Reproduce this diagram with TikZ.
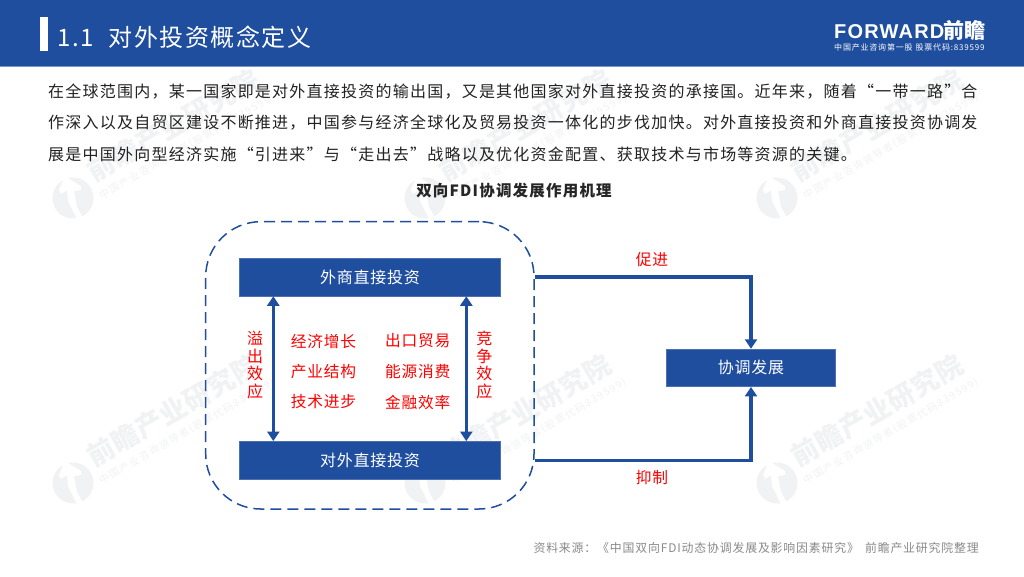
\documentclass[tikz,border=0pt]{standalone}
\usepackage{fontspec}
\setmainfont{Noto Sans CJK SC}
\newfontfamily\bodyf[LetterSpace=7.7]{Noto Sans CJK SC}
\newfontfamily\boxf[LetterSpace=5]{Noto Sans CJK SC}
\newfontfamily\titlef[LetterSpace=6.5]{Noto Sans CJK SC}
\newfontfamily\srcf[LetterSpace=7]{Noto Sans CJK SC}
\newfontfamily\logof[LetterSpace=6]{Liberation Sans}
\definecolor{fblue}{HTML}{1F4E9F}
\definecolor{wm}{HTML}{F0F2F4}
\definecolor{bodytxt}{HTML}{222222}
\definecolor{srcgrey}{HTML}{8A8A8A}
\tikzset{
  bluebox/.style={fill=fblue,draw=fblue!80!white,line width=0.5pt,text=white,font=\boxf\fontsize{16}{18}\selectfont,inner sep=0pt},
  redlabel/.style={text=red,font=\boxf\fontsize{15.7}{18}\selectfont,inner sep=0pt},
  redstack/.style={text=red,font=\fontsize{16}{17.5}\selectfont,align=center,inner sep=0pt},
  bodyline/.style={anchor=west,text=bodytxt,font=\bodyf\fontsize{16}{18}\selectfont,inner sep=0pt},
  conn/.style={draw=fblue,line width=3.3pt,line join=miter},
  tip/.style={-{Triangle[length=9.5pt,width=12pt]}},
  twotip/.style={{Triangle[length=9.5pt,width=12pt]}-{Triangle[length=9.5pt,width=12pt]}},
  wmmain/.style={anchor=west,rotate=30,text=wm,font=\bfseries\fontsize{27}{30}\selectfont,inner sep=0pt},
  wmsub/.style={anchor=west,rotate=30,text=wm,font=\fontsize{10}{12}\selectfont,inner sep=0pt},
}
\usetikzlibrary{arrows.meta}
\newcommand{\wmark}[2]{%
  \begin{scope}[shift={(#1,#2)}]
    \fill[wm] (0,0) circle[radius=20.5];
    \fill[white] (-9,-20) -- (-5,-20) -- (8,-12) -- (8,-8) -- (1,-7) -- (4,9) -- (11,21) -- (4,21) -- (-5,3) -- (-6,-8) -- (-12,-4) -- (-14,-8) -- cycle;
    \node[wmmain] at (16,-24) {\addfontfeature{LetterSpace=3}前瞻产业研究院};
    \node[wmsub] at (27,-1) {\addfontfeature{LetterSpace=15}中国产业咨询领导者(股票代码839599)};
  \end{scope}}
\begin{document}
\begin{tikzpicture}[x=1pt,y=-1pt]
\useasboundingbox (0,0) rectangle (1024,576);
\fill[white] (0,0) rectangle (1024,576);
% watermarks
\wmark{73}{198}\wmark{425}{198}\wmark{777}{198}
\wmark{73}{483}\wmark{425}{483}\wmark{777}{483}
% header
\fill[fblue] (0,0) rectangle (1024,66);
\fill[fblue!60!white] (0,66) rectangle (1024,66.8);
\fill[white] (40,17) rectangle (47.5,51);
\node[anchor=west,text=white,font=\titlef\fontsize{24}{28}\selectfont,inner sep=0pt] (title) at (57,37.5) {1.1\hspace{15pt}对外投资概念定义};
\node[anchor=west,text=white,font=\logof\bfseries\fontsize{20}{22}\selectfont,inner sep=0pt] (logo) at (834,30) {FORWARD\hspace{-1pt}\fontsize{21}{22}\selectfont\normalfont\bfseries 前瞻};
\node[anchor=west,text=white,font=\fontsize{8}{9}\selectfont,inner sep=0pt] (logosub) at (834,47) {\addfontfeature{LetterSpace=10}中国产业咨询第一股\hspace{3pt}股票代码:839599};
% body
\node[bodyline] (l1) at (48,91.5) {在全球范围内，某一国家即是对外直接投资的输出国，又是其他国家对外直接投资的承接国。近年来，随着“一带一路”合};
\node[bodyline] (l2) at (48,122.5) {作深入以及自贸区建设不断推进，中国参与经济全球化及贸易投资一体化的步伐加快。对外直接投资和外商直接投资协调发};
\node[bodyline] (l3) at (48,154.5) {展是中国外向型经济实施“引进来”与“走出去”战略以及优化资金配置、获取技术与市场等资源的关键。};
\node[text=black!85,font=\bodyf\bfseries\fontsize{15.5}{18}\selectfont,inner sep=0pt] (cap) at (514,191) {双向FDI协调发展作用机理};
% group
\node[draw=fblue,dashed,dash pattern=on 11pt off 6pt,line width=1.5pt,rounded corners=55pt,minimum width=328.3pt,minimum height=287.3pt,inner sep=0pt] (group) at (369.85,365.35) {};
% boxes
\node[bluebox,minimum width=261.4pt,minimum height=38pt] (fdiin) at (370,277) {外商直接投资};
\node[bluebox,minimum width=261.4pt,minimum height=38pt] (fdiout) at (370,460.3) {对外直接投资};
\node[bluebox,minimum width=168.6pt,minimum height=37.7pt] (coord) at (751,367.85) {协调发展};
% inner arrows
\coordinate (la) at (273.3,300);
\coordinate (ra) at (466.3,300);
\draw[conn,twotip] (fdiin.south -| la) -- (fdiout.north -| la);
\draw[conn,twotip] (fdiin.south -| ra) -- (fdiout.north -| ra);
% outer connectors
\draw[conn,tip] (group.east |- fdiin) -- (coord.north |- fdiin) -- (coord.north);
\draw[conn,tip] (group.east |- fdiout) -- (coord.south |- fdiout) -- (coord.south);
% red labels
\node[redlabel] (p) at (652,260) {促进};
\node[redlabel] (y) at (652,478) {抑制};
\node[redstack] (s1) at (255,365) {溢\\出\\效\\应};
\node[redstack] (s2) at (484.3,365) {竞\\争\\效\\应};
\node[redlabel] (a1) at (323.5,341) {经济增长};
\node[redlabel] (a2) at (323.5,372) {产业结构};
\node[redlabel] (a3) at (323.5,402) {技术进步};
\node[redlabel] (b1) at (417.7,341) {出口贸易};
\node[redlabel] (b2) at (417.7,372) {能源消费};
\node[redlabel] (b3) at (417.7,402) {金融效率};
% source
\node[anchor=east,text=srcgrey,font=\srcf\fontsize{11.9}{14}\selectfont,inner sep=0pt] (src) at (979,548) {资料来源：《中国双向FDI动态协调发展及影响因素研究》\hspace{6pt}前瞻产业研究院整理};
\end{tikzpicture}
\end{document}
